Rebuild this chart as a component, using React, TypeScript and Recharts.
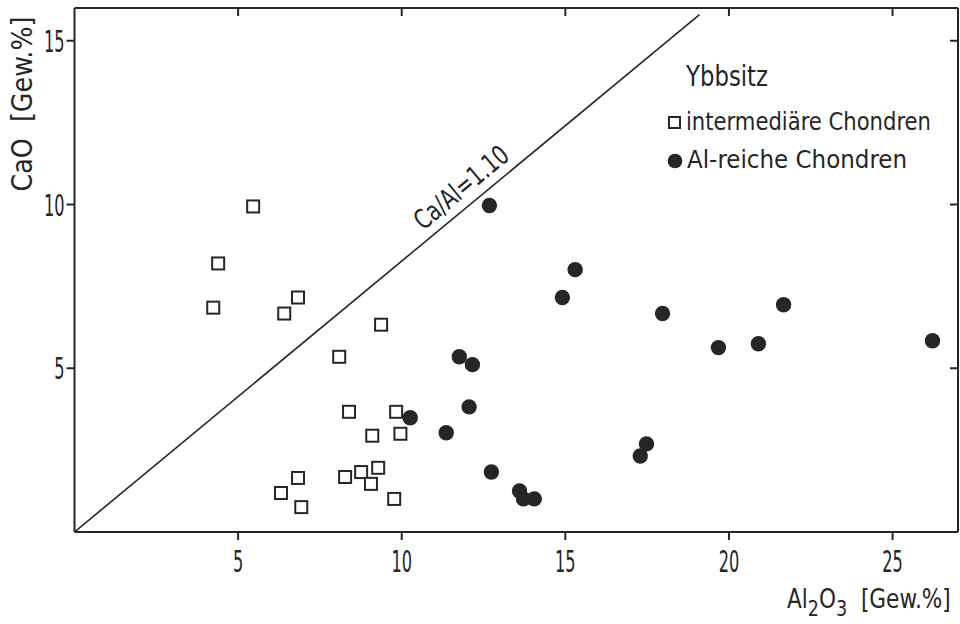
import {
  ScatterChart,
  Scatter,
  XAxis,
  YAxis,
  ReferenceDot,
  Legend,
} from 'recharts';

// intermediäre Chondren (open squares)
const squareAl = [5.46, 4.39, 4.24, 6.83, 6.41, 9.37, 8.09, 8.39, 9.83, 9.1, 9.96, 6.83, 6.31, 6.93, 8.27, 8.76, 9.28, 9.06, 9.77];
const squareCa = [9.94, 8.2, 6.85, 7.16, 6.67, 6.33, 5.35, 3.67, 3.67, 2.94, 3.0, 1.65, 1.19, 0.76, 1.68, 1.83, 1.96, 1.47, 1.01];

// Al-reiche Chondren (filled circles)
const circleAl = [12.68, 10.26, 11.36, 12.06, 11.76, 12.16, 14.91, 15.3, 12.74, 13.6, 13.72, 14.05, 17.97, 19.68, 20.9, 21.67, 26.22, 17.48, 17.29];
const circleCa = [9.97, 3.49, 3.03, 3.82, 5.35, 5.11, 7.16, 8.01, 1.83, 1.25, 1.01, 1.01, 6.67, 5.63, 5.75, 6.94, 5.84, 2.69, 2.32];

// Ca/Al = 1.10 reference line (end points)
const ratioAl = [0, 19.1];
const ratioCa = [0, 15.8];

const xTicks = [5, 10, 15, 20, 25];
const yTicks = [5, 10, 15];

const squares = squareAl.map((x, i) => ({ x, y: squareCa[i] }));
const circles = circleAl.map((x, i) => ({ x, y: circleCa[i] }));
const ratioLine = ratioAl.map((x, i) => ({ x, y: ratioCa[i] }));

const INK = '#262626';
const FONT = '"DejaVu Sans Condensed", "DejaVu Sans", sans-serif';

const SquareMark = (props: any) => (
  <rect x={props.cx - 6} y={props.cy - 6} width={12} height={12} fill="#fff" stroke={INK} strokeWidth={2} />
);
const CircleMark = (props: any) => <circle cx={props.cx} cy={props.cy} r={7.7} fill={INK} />;
const NoMark = () => <g />;

const XTick = ({ x, y, payload }: any) => (
  <g transform={`translate(${x},${y})`}>
    <text transform="scale(0.6,1)" textAnchor="middle" y={30} fontSize={30} fontFamily={FONT} fill={INK}>
      {payload.value}
    </text>
  </g>
);

const YTick = ({ x, y, payload }: any) => (
  <g transform={`translate(${x},${y})`}>
    <text transform="scale(0.6,1)" textAnchor="end" y={11} fontSize={30} fontFamily={FONT} fill={INK}>
      {payload.value}
    </text>
  </g>
);

// Al2O3 [Gew.%] with subscripts, one text squeezed horizontally
const XLabel = ({ viewBox }: any) => {
  const x0 = viewBox.x + viewBox.width - 171;
  const y = viewBox.y + 76;
  return (
    <g transform={`translate(${x0},${y}) scale(0.89,1)`}>
      <text x={0} y={0} fontSize={27} fontFamily={FONT} fill={INK}>
        <tspan>Al</tspan>
        <tspan dy={8} fontSize={22}>2</tspan>
        <tspan dy={-8}>O</tspan>
        <tspan dy={8} fontSize={22}>3</tspan>
        <tspan dy={-8}>{'\u00a0\u00a0[Gew.%]'}</tspan>
      </text>
    </g>
  );
};

const YLabel = ({ viewBox }: any) => {
  const x = viewBox.x + 32;
  const y = viewBox.y + 96;
  return (
    <text
      x={x}
      y={y}
      transform={`rotate(-90, ${x}, ${y})`}
      textAnchor="middle"
      fontSize={29}
      fontFamily={FONT}
      fill={INK}
      textLength={175}
      lengthAdjust="spacingAndGlyphs"
    >
      {'CaO\u00a0\u00a0[Gew.%]'}
    </text>
  );
};

const RatioLabel = ({ viewBox }: any) => (
  <text
    x={viewBox.x}
    y={viewBox.y}
    transform={`rotate(-39.7, ${viewBox.x}, ${viewBox.y})`}
    textAnchor="middle"
    fontSize={27}
    fontFamily={FONT}
    fill={INK}
    textLength={114}
    lengthAdjust="spacingAndGlyphs"
  >
    Ca/Al=1.10
  </text>
);

const LegendBox = () => (
  <svg width={296} height={120} style={{ overflow: 'visible' }}>
    <text x={22} y={26} fontSize={28} fontFamily={FONT} fill={INK} textLength={82} lengthAdjust="spacingAndGlyphs">
      Ybbsitz
    </text>
    <rect x={5} y={57} width={11} height={11} fill="#fff" stroke={INK} strokeWidth={2} />
    <text x={22} y={70} fontSize={24} fontFamily={FONT} fill={INK} textLength={245} lengthAdjust="spacingAndGlyphs">
      intermediäre Chondren
    </text>
    <circle cx={11} cy={101} r={7.3} fill={INK} />
    <text x={23} y={108} fontSize={25} fontFamily={FONT} fill={INK} textLength={220} lengthAdjust="spacingAndGlyphs">
      Al-reiche Chondren
    </text>
  </svg>
);

export default function App() {
  return (
    <div style={{ position: 'absolute', left: 0, top: 0, width: 960, height: 624, background: '#fff' }}>
      <ScatterChart width={960} height={624} margin={{ top: 8, right: 2, bottom: 32, left: 0 }}>
        {/* bottom and left axes with labels */}
        <XAxis
          xAxisId="bottom"
          type="number"
          dataKey="x"
          domain={[0, 27]}
          ticks={xTicks}
          interval={0}
          allowDataOverflow
          height={60}
          tickSize={8}
          stroke={INK}
          strokeWidth={2}
          tick={XTick}
          label={{ content: XLabel }}
        />
        <YAxis
          yAxisId="left"
          type="number"
          dataKey="y"
          domain={[0, 16]}
          ticks={yTicks}
          interval={0}
          allowDataOverflow
          width={74.5}
          tickSize={8}
          stroke={INK}
          strokeWidth={2}
          tick={YTick}
          label={{ content: YLabel }}
        />
        {/* frame: top and right axes, ticks pointing in */}
        <XAxis
          xAxisId="top"
          orientation="top"
          type="number"
          dataKey="x"
          domain={[0, 27]}
          ticks={xTicks}
          interval={0}
          allowDataOverflow
          height={1}
          mirror
          tickSize={8}
          stroke={INK}
          strokeWidth={2}
          tick={NoMark}
        />
        <YAxis
          yAxisId="right"
          orientation="right"
          type="number"
          dataKey="y"
          domain={[0, 16]}
          ticks={yTicks}
          interval={0}
          allowDataOverflow
          width={1}
          mirror
          tickSize={8}
          stroke={INK}
          strokeWidth={2}
          tick={NoMark}
        />

        {/* drawn on the frame axes so they carry data as well; same domain */}
        <Scatter
          xAxisId="top"
          yAxisId="right"
          data={ratioLine}
          line={{ stroke: INK, strokeWidth: 1.6 }}
          shape={NoMark}
          isAnimationActive={false}
        />
        <Scatter xAxisId="bottom" yAxisId="left" data={squares} shape={SquareMark} isAnimationActive={false} />
        <Scatter xAxisId="bottom" yAxisId="left" data={circles} shape={CircleMark} isAnimationActive={false} />

        <ReferenceDot
          xAxisId="bottom"
          yAxisId="left"
          x={12.0}
          y={10.3}
          r={0}
          fill="none"
          stroke="none"
          label={{ content: RatioLabel }}
        />

        <Legend
          layout="vertical"
          align="center"
          verticalAlign="middle"
          content={LegendBox}
          wrapperStyle={{ left: 664, top: 60, width: 296, height: 120 }}
        />
      </ScatterChart>
    </div>
  );
}
